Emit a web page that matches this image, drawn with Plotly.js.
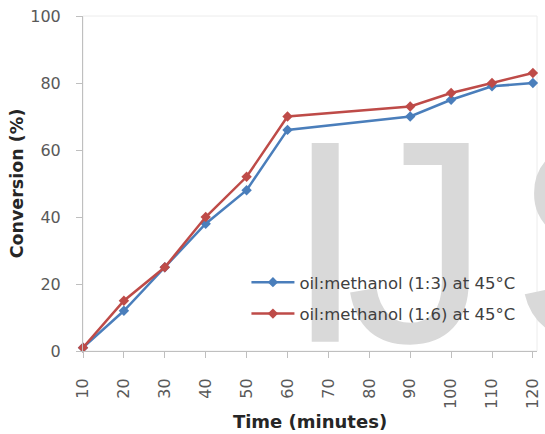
<!DOCTYPE html>
<html>
<head>
<meta charset="utf-8">
<script src="https://cdn.plot.ly/plotly-3.0.1.min.js"></script>
<style>html,body{margin:0;padding:0;background:#fff;}#chart{width:545px;height:434px;}</style>
</head>
<body>
<div id="chart"></div>
<script>
// Data
var timeMinutes = [10, 20, 30, 40, 50, 60, 90, 100, 110, 120];
var conversion13 = [1, 12, 25, 38, 48, 66, 70, 75, 79, 80];
var conversion16 = [1, 15, 25, 40, 52, 70, 73, 77, 80, 83];
var seriesNames = ['oil:methanol (1:3) at 45°C', 'oil:methanol (1:6) at 45°C'];
var xTicks = [10, 20, 30, 40, 50, 60, 70, 80, 90, 100, 110, 120];
var yTicks = [0, 20, 40, 60, 80, 100];
// background watermark letters
var watermarkLetters = ['I', 'J', 'S'];
var watermarkX = [59.4, 74.2, 114.8];
var watermarkY = [24.3, 24.3, 24.3];

var fontFam = '"DejaVu Sans", Verdana, sans-serif';

var traces = [
  {
    x: watermarkX, y: watermarkY, text: watermarkLetters, mode: 'text',
    textposition: 'middle right', cliponaxis: false,
    textfont: {family: '"Liberation Sans", Arial, sans-serif', size: 289, color: '#d9d9d9'},
    showlegend: false, hoverinfo: 'skip'
  },
  {
    x: timeMinutes, y: conversion13, name: seriesNames[0], mode: 'lines+markers',
    line: {color: '#4a7ebb', width: 2.5},
    marker: {symbol: 'diamond', size: 8, color: '#4a7ebb'},
    legendgroup: 'a', cliponaxis: false
  },
  {
    x: timeMinutes, y: conversion16, name: seriesNames[1], mode: 'lines+markers',
    line: {color: '#be4b48', width: 2.5},
    marker: {symbol: 'diamond', size: 8, color: '#be4b48'},
    legendgroup: 'b', cliponaxis: false
  }
];

var layout = {
  width: 545, height: 434,
  margin: {l: 83, r: 8, t: 16, b: 83},
  paper_bgcolor: '#ffffff', plot_bgcolor: '#ffffff',
  font: {family: fontFam, color: '#595959'},
  showlegend: true,
  legend: {
    x: 0.36, y: 0.257, xanchor: 'left', yanchor: 'top',
    bgcolor: 'rgba(0,0,0,0)', font: {family: fontFam, size: 16.5, color: '#404040'},
    tracegroupgap: 7, itemwidth: 43, traceorder: 'grouped'
  },
  xaxis: {
    range: [10, 121], tickmode: 'array', tickvals: xTicks, ticktext: xTicks.map(String),
    tickangle: -90, ticks: 'outside', ticklen: 6, tickcolor: '#bfbfbf',
    showline: true, linecolor: '#bfbfbf', linewidth: 1, showgrid: false, zeroline: false,
    tickfont: {family: fontFam, size: 16, color: '#595959'}, ticklabelstandoff: 14,
    title: {text: '<b>Time (minutes)</b>', font: {family: fontFam, size: 18, color: '#262626'}, standoff: 7}
  },
  yaxis: {
    range: [0, 100], tickmode: 'array', tickvals: yTicks, ticktext: yTicks.map(String),
    ticks: 'outside', ticklen: 6, tickcolor: '#bfbfbf',
    showline: true, linecolor: '#bfbfbf', linewidth: 1, showgrid: false, zeroline: false,
    tickfont: {family: fontFam, size: 16, color: '#595959'}, ticklabelstandoff: 12,
    title: {text: '<b>Conversion (%)</b>', font: {family: fontFam, size: 17.5, color: '#262626'}, standoff: 2}
  },
  shapes: [
    {type: 'rect', xref: 'paper', yref: 'paper', x0: 0, x1: 1, y0: 0, y1: 1,
     line: {color: '#ececec', width: 1}, layer: 'below'}
  ]
};

Plotly.newPlot('chart', traces, layout, {staticPlot: true, displayModeBar: false});
</script>
</body>
</html>
